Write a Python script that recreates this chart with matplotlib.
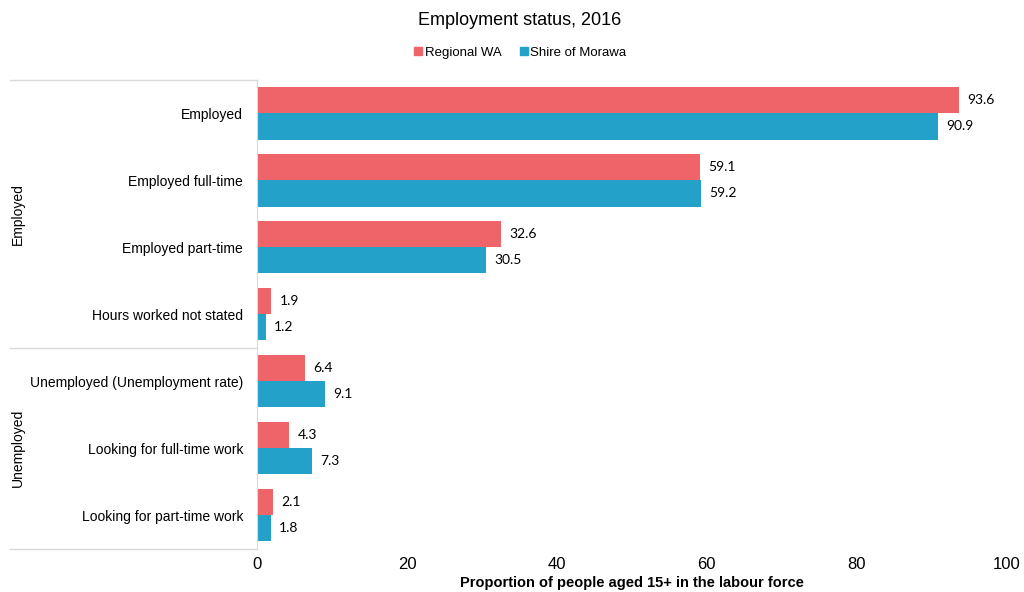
import numpy as np
import matplotlib.pyplot as plt
from matplotlib.patches import Patch

plt.rcParams['font.family'] = ['Liberation Sans', 'DejaVu Sans']

# data
categories = ["Employed", "Employed full-time", "Employed part-time",
              "Hours worked not stated", "Unemployed (Unemployment rate)",
              "Looking for full-time work", "Looking for part-time work"]
groups = ["Employed", "Unemployed"]
group_sizes = [4, 3]
regional_wa = [93.6, 59.1, 32.6, 1.9, 6.4, 4.3, 2.1]
morawa = [90.9, 59.2, 30.5, 1.2, 9.1, 7.3, 1.8]
series_names = ["Regional WA", "Shire of Morawa"]
xticks = [0, 20, 40, 60, 80, 100]

red = "#ee6469"
blue = "#24a1c9"
grid_col = "#d9d9d9"

L, B, W, H = 0.251, 0.073, 0.732, 0.792
fig = plt.figure(figsize=(10.24, 5.92), dpi=100)
ax = fig.add_axes([L, B, W, H])

y = np.arange(len(categories))
h = 0.39
ax.barh(y - h / 2, regional_wa, height=h, color=red)
ax.barh(y + h / 2, morawa, height=h, color=blue)

for yi, v in zip(y, regional_wa):
    ax.text(v + 1.1, yi - h / 2, f"{v:.1f}", va="center", ha="left",
            fontsize=10, family=["Lato", "DejaVu Sans"])
for yi, v in zip(y, morawa):
    ax.text(v + 1.1, yi + h / 2, f"{v:.1f}", va="center", ha="left",
            fontsize=10, family=["Lato", "DejaVu Sans"])

ax.set_xlim(0, 100)
ax.set_ylim(len(categories) - 0.5, -0.5)
ax.set_xticks(xticks)
ax.set_xticklabels([str(t) for t in xticks], fontsize=12)
ax.set_yticks(y)
ax.set_yticklabels(categories, fontsize=10)
ax.tick_params(axis="both", length=0)
ax.tick_params(axis="y", pad=10)
ax.tick_params(axis="x", pad=6)
for s in ["top", "right", "bottom"]:
    ax.spines[s].set_visible(False)
ax.spines["left"].set_color(grid_col)

ax.set_xlabel("Proportion of people aged 15+ in the labour force",
              fontsize=10.5, fontweight="bold", labelpad=3)

# group separators and group labels on the left
trans = ax.get_yaxis_transform()
x0 = (10 / 1024 - L) / W
start = -0.5
ax.plot([x0, 0], [start, start], transform=trans, color=grid_col,
        lw=1, clip_on=False)
for name, n in zip(groups, group_sizes):
    end = start + n
    ax.plot([x0, 0], [end, end], transform=trans, color=grid_col,
            lw=1, clip_on=False)
    ax.text((18 / 1024 - L) / W, (start + end) / 2, name,
            transform=trans, rotation=90, va="center", ha="center",
            fontsize=10)
    start = end

fig.text(0.507, 0.965, "Employment status, 2016", ha="center", va="center",
         fontsize=13)
handles = [Patch(color=red), Patch(color=blue)]
fig.legend(handles, series_names, loc="center", bbox_to_anchor=(0.508, 0.911),
           ncol=2, frameon=False, fontsize=9.5, handlelength=0.6,
           handleheight=0.6, handletextpad=0.2, columnspacing=1.4)

fig.savefig("out.png", dpi=100)
